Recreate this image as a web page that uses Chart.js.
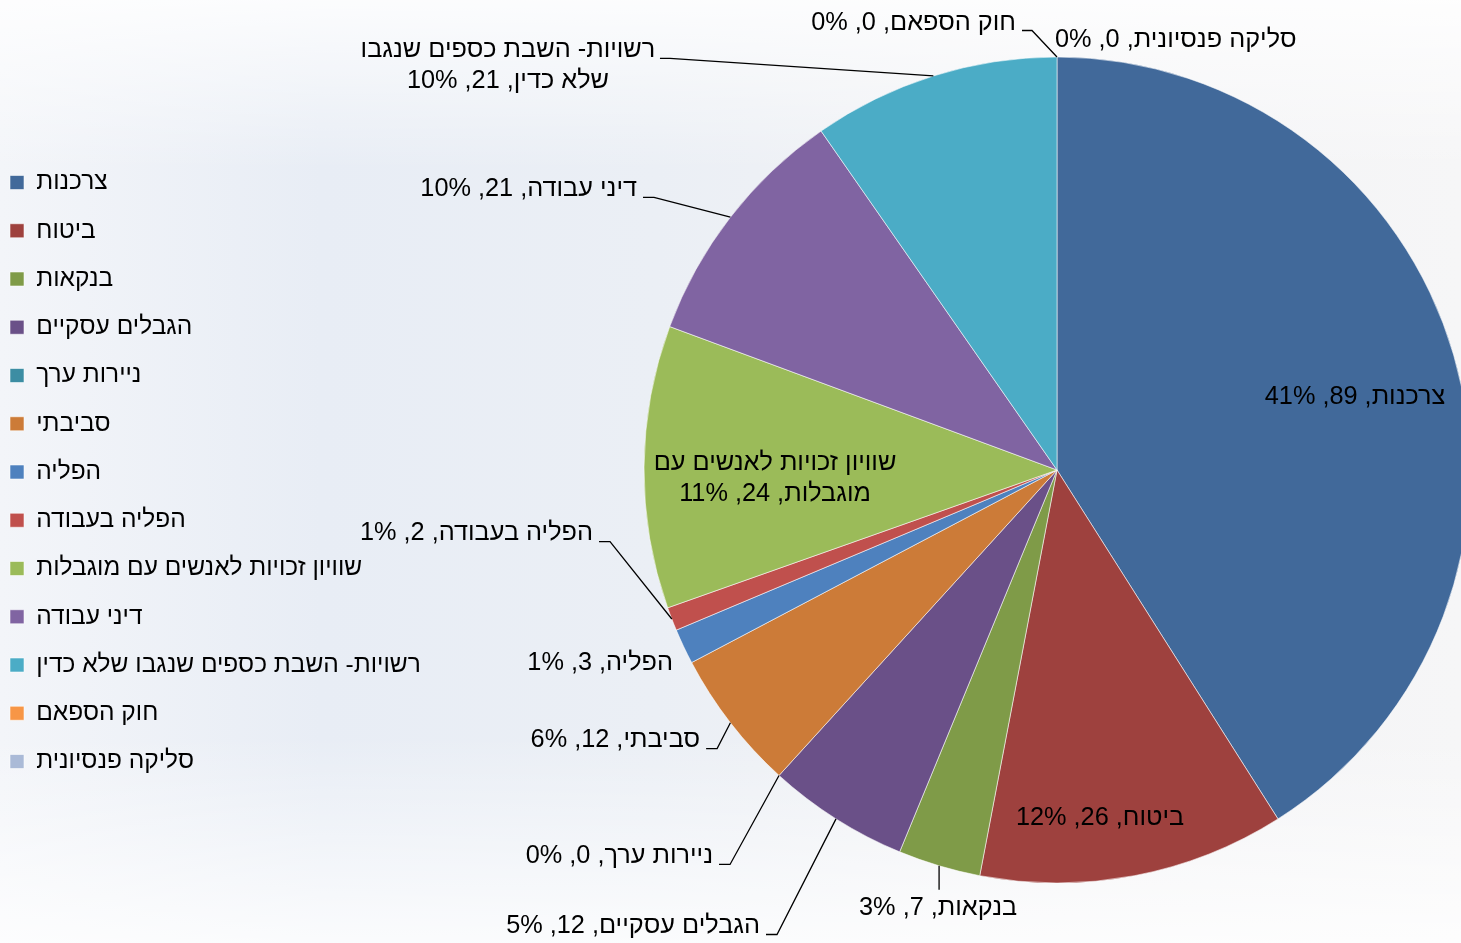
<!DOCTYPE html>
<html>
<head>
<meta charset="utf-8">
<script src="https://cdn.jsdelivr.net/npm/chart.js@4.4.0/dist/chart.umd.min.js"></script>
<style>
html,body{margin:0;padding:0;overflow:hidden;width:1461px;height:943px;}
body{
  background:
    linear-gradient(180deg, rgba(255,255,255,0.85) 0%, rgba(255,255,255,0) 18%, rgba(255,255,255,0) 78%, rgba(255,255,255,0.8) 100%),
    linear-gradient(90deg, #f3f5f9 0%, #e8edf5 22%, #ebeff5 45%, #f1f2f5 65%, #f6f6f7 100%);
}
canvas{display:block;}
</style>
</head>
<body>
<canvas id="c" width="1461" height="943"></canvas>
<script>
const categories = [
  'צרכנות',
  'ביטוח',
  'בנקאות',
  'הגבלים עסקיים',
  'ניירות ערך',
  'סביבתי',
  'הפליה',
  'הפליה בעבודה',
  'שוויון זכויות לאנשים עם מוגבלות',
  'דיני עבודה',
  'רשויות- השבת כספים שנגבו שלא כדין',
  'חוק הספאם',
  'סליקה פנסיונית'
];
const values = [89, 26, 7, 12, 0, 12, 3, 2, 24, 21, 21, 0, 0];
// percentages as printed on the chart
const percentLabels = ['41%', '12%', '3%', '5%', '0%', '6%', '1%', '1%', '11%', '10%', '10%', '0%', '0%'];
const colors = ['#41699A', '#9E413E', '#7F9B48', '#6A5088', '#3C8DA3', '#CC7B38',
                '#4E81BE', '#C0504D', '#9BBB59', '#8064A2', '#4BACC6', '#F79646', '#AABAD7'];

// label placement relative to each slice's outer mid-point (layout only)
const labelLayout = [
  {dx: -98.6, dy: 42.1, align: 'center'},
  {dx: -34.2, dy: -57.7, align: 'center'},
  {dx: -1, dy: 42, align: 'center', leader: {lx: 0, ly: 24, h: 0}},
  {dx: -76, dy: 107, align: 'right', leader: {lx: -70, ly: 115.6, h: 11}},
  {dx: -66, dy: 80.5, align: 'right', leader: {lx: -60, ly: 89, h: 11}},
  {dx: -30.3, dy: 17.3, align: 'right', leader: {lx: -24.3, ly: 25.8, h: 11}},
  {dx: -10.6, dy: 16.5, align: 'right'},
  {dx: -78.8, dy: -86, align: 'right', leader: {lx: -72.8, ly: -77.5, h: 11}},
  {dx: 131, dy: -4, align: 'center', wrap: 262},
  {dx: -93.4, dy: -28.3, align: 'right', leader: {lx: -87.4, ly: -19.8, h: 11}},
  {dx: -425.4, dy: -26, align: 'center', wrap: 312, leader: {lx: -273.4, ly: -17.5, h: 10}},
  {dx: -41, dy: -34, align: 'right', leader: {lx: -35, ly: -26.5, h: 10}},
  {dx: -2, dy: -17, align: 'left'}
];

const FONT = '"Liberation Sans", Arial, sans-serif';
const LABEL_SIZE = 25.3;
const LEGEND_SIZE = 24.5;
const PIE_CENTER_X = 1057;
const PIE_CENTER_Y = 470;

function wrapWords(ctx, text, maxW) {
  if (!maxW) return [text];
  const words = text.split(' ');
  const lines = [];
  let cur = '';
  words.forEach(w => {
    const t = cur ? cur + ' ' + w : w;
    if (cur && ctx.measureText(t).width > maxW) { lines.push(cur); cur = w; }
    else cur = t;
  });
  if (cur) lines.push(cur);
  return lines;
}

const pieCenter = {
  id: 'pieCenter',
  afterLayout(chart) {
    const ca = chart.chartArea;
    const halfW = Math.max(ca.right - ca.left, 900) / 2;
    const halfH = (ca.bottom - ca.top) / 2;
    ca.left = PIE_CENTER_X - halfW;
    ca.right = PIE_CENTER_X + halfW;
    ca.top = PIE_CENTER_Y - halfH;
    ca.bottom = PIE_CENTER_Y + halfH;
    ca.width = ca.right - ca.left;
    ca.height = ca.bottom - ca.top;
  }
};

const sliceLabels = {
  id: 'sliceLabels',
  afterDatasetsDraw(chart) {
    const ctx = chart.ctx;
    const meta = chart.getDatasetMeta(0);
    ctx.save();
    ctx.font = LABEL_SIZE + 'px ' + FONT;
    ctx.fillStyle = '#000';
    ctx.strokeStyle = '#000';
    ctx.lineWidth = 1.3;
    ctx.direction = 'rtl';
    ctx.textBaseline = 'middle';
    meta.data.forEach((arc, i) => {
      const p = arc.getProps(['x', 'y', 'startAngle', 'endAngle', 'outerRadius'], true);
      const mid = (p.startAngle + p.endAngle) / 2;
      const px = p.x + Math.cos(mid) * p.outerRadius;
      const py = p.y + Math.sin(mid) * p.outerRadius;
      const L = labelLayout[i];
      const text = categories[i] + ', ' + values[i] + ', ' + percentLabels[i];
      const lines = wrapWords(ctx, text, L.wrap);
      ctx.textAlign = L.align;
      lines.forEach((ln, k) => ctx.fillText(ln, px + L.dx, py + L.dy + k * 31));
      if (L.leader) {
        const x0 = px + L.leader.lx, y0 = py + L.leader.ly;
        ctx.beginPath();
        ctx.moveTo(x0, y0);
        ctx.lineTo(x0 + L.leader.h, y0);
        ctx.lineTo(px, py);
        ctx.stroke();
      }
    });
    ctx.restore();
  }
};

new Chart(document.getElementById('c'), {
  type: 'pie',
  data: {
    labels: categories,
    datasets: [{
      data: values,
      backgroundColor: colors,
      borderColor: 'rgba(255,255,255,0.55)',
      borderWidth: 1,
      radius: 413
    }]
  },
  options: {
    responsive: false,
    animation: false,
    layout: {padding: {left: -13.75, right: 0, top: 2, bottom: 1}},
    plugins: {
      tooltip: {enabled: false},
      legend: {
        position: 'left',
        align: 'center',
        textDirection: 'rtl',
        labels: {
          font: {family: FONT, size: LEGEND_SIZE},
          color: '#000',
          boxWidth: 14,
          boxHeight: 14,
          padding: 23.75
        }
      }
    }
  },
  plugins: [pieCenter, sliceLabels]
});
</script>
</body>
</html>
